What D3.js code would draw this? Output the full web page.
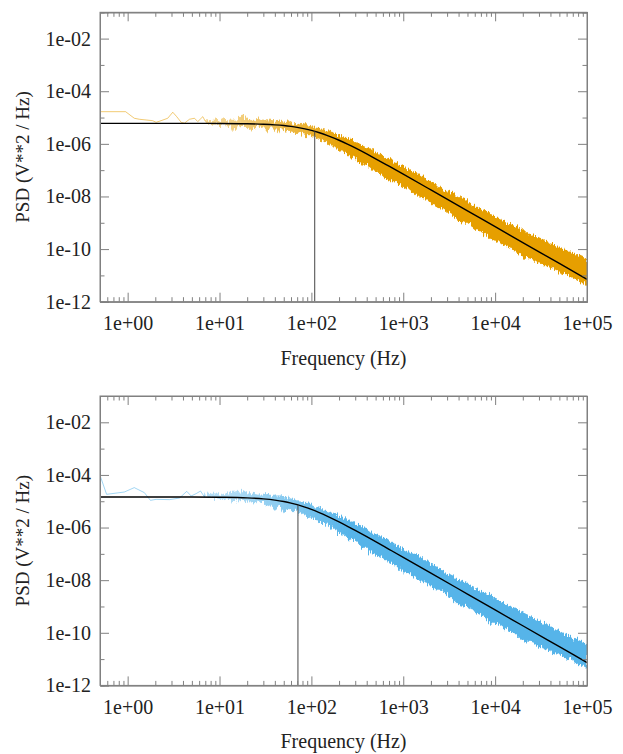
<!DOCTYPE html>
<html>
<head>
<meta charset="utf-8">
<script src="https://cdn.jsdelivr.net/npm/d3@7.9.0/dist/d3.min.js"></script>
<style>
  body { margin: 0; background: #fff; }
  svg text { font-family: "Liberation Serif", "DejaVu Serif", serif; }
</style>
</head>
<body>
<svg id="chart" width="623" height="754"></svg>
<script>
// tick values and labels
const xMajorTicks = [1, 10, 100, 1000, 10000, 100000];
const xTickLabels = ['1e+00', '1e+01', '1e+02', '1e+03', '1e+04', '1e+05'];
const yMajorTicks = [1e-12, 1e-10, 1e-8, 1e-6, 1e-4, 1e-2];
const yTickLabels = ['1e-12', '1e-10', '1e-08', '1e-06', '1e-04', '1e-02'];
const yMinorTicks = [1e-11, 1e-9, 1e-7, 1e-5, 1e-3, 1e-1];

// sparse low-frequency part of each spectrum
const lowFreqTop = [0.5, 0.95, 1.18, 1.34, 1.87, 2.04, 2.31, 2.73, 3.10, 3.42, 3.82, 4.15, 4.71, 5.34, 5.80, 6.58, 7];
const lowPsdTop = [1.67e-5, 1.67e-5, 9.4e-6, 8.6e-6, 7.6e-6, 6.6e-6, 7.6e-6, 9.4e-6, 1.59e-5, 1.08e-5, 6.6e-6, 6.1e-6, 8.6e-6, 9.4e-6, 7.0e-6, 1.08e-5, 7.2e-6];
const lowFreqBot = [0.5, 0.59, 0.92, 1.18, 1.52, 1.77, 2.04, 2.85, 3.66, 4.40, 4.91, 5.57, 6.21, 6.86, 7];
const lowPsdBot = [9.7e-5, 1.83e-5, 2.24e-5, 3.29e-5, 2.12e-5, 1.08e-5, 1.18e-5, 1.15e-5, 1.32e-5, 2.38e-5, 1.58e-5, 1.95e-5, 2.44e-5, 1.45e-5, 1.7e-5];

// dense part: upper and lower edge of the noisy band
const bandFreq = [7, 8, 9, 10, 11, 12, 13, 14, 15, 16, 18, 20, 22, 24, 26, 28, 30, 33, 36, 40,
  44, 48, 52, 57, 62, 68, 75, 82, 90, 100,
  110, 125, 140, 160, 180, 200, 230, 260, 300, 350, 400, 450, 500, 600, 700, 800, 1000, 1200, 1500, 1800,
  2200, 2700, 3300, 4000, 5000, 6000, 7500, 9000, 11000, 13000, 16000, 20000, 25000, 30000, 37000, 45000, 55000, 67000, 82000, 100000];

const bandHiTop = [8.5e-6, 7.1e-6, 9.2e-6, 7.7e-6, 1.0e-5, 7.7e-6, 8.4e-6, 9.1e-6, 7.7e-6, 9.9e-6, 1.28e-5, 8.2e-6, 8.9e-6, 7.4e-6, 9.6e-6, 8.0e-6, 8.6e-6, 7.8e-6, 9.1e-6, 6.9e-6,
  8.0e-6, 7.1e-6, 6.3e-6, 7.9e-6, 6.4e-6, 5.6e-6, 6.3e-6, 5.4e-6, 5.5e-6, 4.6e-6,
  4.2e-6, 4.0e-6, 3.2e-6, 3.2e-6, 2.5e-6, 2.3e-6, 1.7e-6, 1.64e-6, 1.18e-6, 9.7e-7, 7.0e-7, 6.7e-7, 5.0e-7, 3.5e-7, 2.8e-7, 2.0e-7, 1.41e-7, 9.8e-8, 6.9e-8, 4.4e-8,
  3.2e-8, 1.95e-8, 1.43e-8, 9.7e-9, 6.8e-9, 4.3e-9, 3.0e-9, 2.3e-9, 1.41e-9, 1.10e-9, 7.9e-10, 5.1e-10, 3.5e-10, 2.7e-10, 1.92e-10, 1.42e-10, 1.04e-10, 7.6e-11, 5.6e-11, 4.1e-11];
const bandLoTop = [6.0e-6, 5.5e-6, 6.0e-6, 5.0e-6, 5.4e-6, 4.6e-6, 5.0e-6, 2.7e-6, 4.9e-6, 4.5e-6, 4.9e-6, 4.1e-6, 3.1e-6, 4.4e-6, 4.8e-6, 4.0e-6, 4.3e-6, 2.7e-6, 4.2e-6, 3.4e-6,
  2.3e-6, 3.9e-6, 2.9e-6, 3.3e-6, 2.9e-6, 2.3e-6, 2.9e-6, 2.3e-6, 1.77e-6, 2.1e-6,
  1.75e-6, 1.28e-6, 1.22e-6, 7.9e-7, 8.0e-7, 5.2e-7, 5.0e-7, 3.1e-7, 2.9e-7, 1.69e-7, 1.57e-7, 1.16e-7, 7.9e-8, 7.3e-8, 3.8e-8, 3.8e-8, 2.2e-8, 1.86e-8, 9.2e-9, 7.6e-9,
  3.9e-9, 3.4e-9, 2.1e-9, 1.09e-9, 9.9e-10, 5.8e-10, 4.0e-10, 2.2e-10, 2.05e-10, 1.23e-10, 8.9e-11, 4.8e-11, 4.3e-11, 2.75e-11, 2.2e-11, 1.59e-11, 1.16e-11, 8.6e-12, 5.7e-12, 4.2e-12];

const bandHiBot = [2.2e-5, 1.86e-5, 2.4e-5, 2.0e-5, 1.84e-5, 2.2e-5, 2.0e-5, 2.4e-5, 2.6e-5, 2.1e-5, 2.7e-5, 2.1e-5, 2.2e-5, 1.85e-5, 2.0e-5, 1.63e-5, 2.1e-5, 1.69e-5, 1.79e-5, 1.43e-5,
  1.77e-5, 1.42e-5, 1.47e-5, 1.26e-5, 1.40e-5, 1.08e-5, 1.07e-5, 8.9e-6, 9.5e-6, 7.6e-6,
  6.1e-6, 5.5e-6, 5.1e-6, 3.7e-6, 3.6e-6, 2.8e-6, 2.35e-6, 1.72e-6, 1.56e-6, 1.07e-6, 9.0e-7, 6.6e-7, 5.8e-7, 4.1e-7, 3.3e-7, 2.3e-7, 1.61e-7, 1.12e-7, 7.9e-8, 5.0e-8,
  3.7e-8, 2.2e-8, 1.63e-8, 1.11e-8, 7.7e-9, 4.9e-9, 3.4e-9, 2.6e-9, 1.60e-9, 1.25e-9, 9.0e-10, 5.8e-10, 4.0e-10, 2.8e-10, 2.0e-10, 1.48e-10, 9.9e-11, 7.3e-11, 5.3e-11, 3.6e-11];
const bandLoBot = [1.32e-5, 1.43e-5, 1.20e-5, 1.30e-5, 1.09e-5, 1.29e-5, 1.18e-5, 8.3e-6, 1.27e-5, 1.06e-5, 1.14e-5, 9.5e-6, 1.02e-5, 7.7e-6, 1.07e-5, 8.9e-6, 9.5e-6, 6.5e-6, 8.1e-6, 4.6e-6,
  6.8e-6, 5.4e-6, 3.6e-6, 5.2e-6, 4.1e-6, 4.5e-6, 3.1e-6, 3.4e-6, 2.3e-6, 2.4e-6,
  1.95e-6, 1.49e-6, 1.5e-6, 9.2e-7, 9.0e-7, 5.7e-7, 5.3e-7, 3.3e-7, 3.0e-7, 1.70e-7, 1.71e-7, 1.14e-7, 7.8e-8, 7.1e-8, 4.4e-8, 4.0e-8, 1.98e-8, 1.79e-8, 9.6e-9, 8.0e-9,
  4.1e-9, 3.9e-9, 2.2e-9, 1.14e-9, 1.03e-9, 6.0e-10, 4.2e-10, 2.25e-10, 2.1e-10, 1.28e-10, 1.01e-10, 5.0e-11, 4.5e-11, 2.9e-11, 2.25e-11, 1.66e-11, 1.21e-11, 8.9e-12, 6.0e-12, 4.8e-12];

// fitted curves
const fitFreq = [0.5, 1, 2, 5, 10, 20, 30, 40, 50, 60, 70, 85, 100, 120, 150, 200, 250, 300, 400, 500, 700, 1000, 2000, 5000, 10000, 20000, 50000, 100000];
const fitTop = [6.0e-6, 6.0e-6, 6.0e-6, 5.99e-6, 5.95e-6, 5.80e-6, 5.57e-6, 5.28e-6, 4.96e-6, 4.60e-6, 4.24e-6, 3.72e-6, 3.25e-6, 2.70e-6, 2.05e-6, 1.37e-6, 9.54e-7, 6.96e-7, 4.13e-7, 2.71e-7, 1.41e-7, 7.01e-8, 1.77e-8, 2.83e-9, 7.09e-10, 1.77e-10, 2.84e-11, 7.09e-12];
const fitBot = [1.45e-5, 1.45e-5, 1.45e-5, 1.447e-5, 1.42e-5, 1.344e-5, 1.232e-5, 1.104e-5, 9.73e-6, 8.50e-6, 7.39e-6, 6.00e-6, 4.90e-6, 3.79e-6, 2.68e-6, 1.64e-6, 1.094e-6, 7.77e-7, 4.48e-7, 2.90e-7, 1.49e-7, 7.35e-8, 1.85e-8, 2.96e-9, 7.39e-10, 1.85e-10, 2.96e-11, 7.40e-12];

// corner frequency markers [freq, psd at the curve]
const cornerTop = [108.7, 3.0e-6];
const cornerBot = [71.4, 7.25e-6];

const panels = [
  { lowF: lowFreqTop, lowP: lowPsdTop, hi: bandHiTop, lo: bandLoTop, fit: fitTop, corner: cornerTop, color: '#E69F00' },
  { lowF: lowFreqBot, lowP: lowPsdBot, hi: bandHiBot, lo: bandLoBot, fit: fitBot, corner: cornerBot, color: '#56B4E9' }
];

const svg = d3.select('#chart');
const defs = svg.append('defs');
const left = 100;
const right = 587;
const panelHeight = 289.4;
const panelTops = [12.3, 396];
const axisColor = '#808080';
const fontSize = 20;

const x = d3.scaleLog().domain([0.5, 1e5]).range([left, right]);
const xMinorTicks = x.ticks().filter((t) => !xMajorTicks.includes(t));

// rough edge for the noisy band
const rough = defs.append('filter').attr('id', 'rough')
  .attr('x', '-2%').attr('y', '-10%').attr('width', '104%').attr('height', '120%');
rough.append('feTurbulence')
  .attr('type', 'fractalNoise').attr('baseFrequency', '0.7 0.06')
  .attr('numOctaves', 2).attr('seed', 4).attr('result', 'noise');
rough.append('feDisplacementMap')
  .attr('in', 'SourceGraphic').attr('in2', 'noise')
  .attr('scale', 9).attr('xChannelSelector', 'B').attr('yChannelSelector', 'R');

panels.forEach((p, i) => {
  const top = panelTops[i];
  const bottom = top + panelHeight;
  const y = d3.scaleLog().domain([1e-12, 1e-1]).range([bottom, top]);

  defs.append('clipPath').attr('id', `clip${i}`)
    .append('rect').attr('x', left).attr('y', top).attr('width', right - left).attr('height', panelHeight);

  const grad = defs.append('linearGradient').attr('id', `fade${i}`)
    .attr('gradientUnits', 'userSpaceOnUse')
    .attr('x1', x(12)).attr('x2', x(250)).attr('y1', 0).attr('y2', 0);
  grad.append('stop').attr('offset', 0).attr('stop-color', p.color).attr('stop-opacity', 0.45);
  grad.append('stop').attr('offset', 1).attr('stop-color', p.color).attr('stop-opacity', 1);

  const g = svg.append('g');
  const plot = g.append('g').attr('clip-path', `url(#clip${i})`);

  // noisy band
  const band = bandFreq.map((f, k) => ({ f, hi: p.hi[k], lo: p.lo[k] }));
  plot.append('path')
    .datum(band)
    .attr('d', d3.area().x((d) => x(d.f)).y0((d) => y(d.lo)).y1((d) => y(d.hi)))
    .attr('fill', `url(#fade${i})`)
    .attr('filter', 'url(#rough)');

  // sparse low-frequency trace
  const low = p.lowF.map((f, k) => ({ f, v: p.lowP[k] }));
  plot.append('path')
    .datum(low)
    .attr('d', d3.line().x((d) => x(d.f)).y((d) => y(d.v)))
    .attr('fill', 'none')
    .attr('stroke', p.color)
    .attr('stroke-opacity', 0.55)
    .attr('stroke-width', 1);

  // fit line
  const fit = fitFreq.map((f, k) => ({ f, v: p.fit[k] }));
  plot.append('path')
    .datum(fit)
    .attr('d', d3.line().x((d) => x(d.f)).y((d) => y(d.v)).curve(d3.curveMonotoneX))
    .attr('fill', 'none')
    .attr('stroke', '#000')
    .attr('stroke-width', 1.4);

  // corner frequency
  plot.append('line')
    .attr('x1', x(p.corner[0])).attr('x2', x(p.corner[0]))
    .attr('y1', y(1e-12)).attr('y2', y(p.corner[1]))
    .attr('stroke', '#444')
    .attr('stroke-width', 1);

  // axes, ticks pointing inwards on all four sides
  g.append('g').attr('transform', `translate(0,${bottom})`)
    .call(d3.axisBottom(x).tickValues(xMajorTicks).tickSize(-9).tickPadding(14).tickFormat((d, k) => xTickLabels[k]));
  g.append('g').attr('transform', `translate(0,${bottom})`)
    .call(d3.axisBottom(x).tickValues(xMinorTicks).tickSize(-4.5).tickFormat(''));
  g.append('g').attr('transform', `translate(0,${top})`)
    .call(d3.axisTop(x).tickValues(xMajorTicks).tickSize(-9).tickFormat(''));
  g.append('g').attr('transform', `translate(0,${top})`)
    .call(d3.axisTop(x).tickValues(xMinorTicks).tickSize(-4.5).tickFormat(''));
  g.append('g').attr('transform', `translate(${left},0)`)
    .call(d3.axisLeft(y).tickValues(yMajorTicks).tickSize(-9).tickPadding(9).tickFormat((d, k) => yTickLabels[k]));
  g.append('g').attr('transform', `translate(${left},0)`)
    .call(d3.axisLeft(y).tickValues(yMinorTicks).tickSize(-4.5).tickFormat(''));
  g.append('g').attr('transform', `translate(${right},0)`)
    .call(d3.axisRight(y).tickValues(yMajorTicks).tickSize(-9).tickFormat(''));
  g.append('g').attr('transform', `translate(${right},0)`)
    .call(d3.axisRight(y).tickValues(yMinorTicks).tickSize(-4.5).tickFormat(''));

  g.selectAll('.domain').attr('stroke', axisColor);
  g.selectAll('.tick line').attr('stroke', axisColor);
  g.selectAll('.tick text')
    .attr('font-size', fontSize)
    .attr('font-family', '"Liberation Serif", serif')
    .attr('fill', '#222');

  g.append('rect')
    .attr('x', left).attr('y', top)
    .attr('width', right - left).attr('height', panelHeight)
    .attr('fill', 'none')
    .attr('stroke', axisColor);

  // axis titles
  g.append('text')
    .attr('x', (left + right) / 2)
    .attr('y', bottom + 63)
    .attr('text-anchor', 'middle')
    .attr('font-size', fontSize)
    .attr('fill', '#222')
    .text('Frequency (Hz)');

  g.append('text')
    .attr('transform', `translate(29,${(top + bottom) / 2}) rotate(-90)`)
    .attr('text-anchor', 'middle')
    .attr('font-size', 19)
    .attr('fill', '#222')
    .text('PSD (V**2 / Hz)');
});
</script>
</body>
</html>
